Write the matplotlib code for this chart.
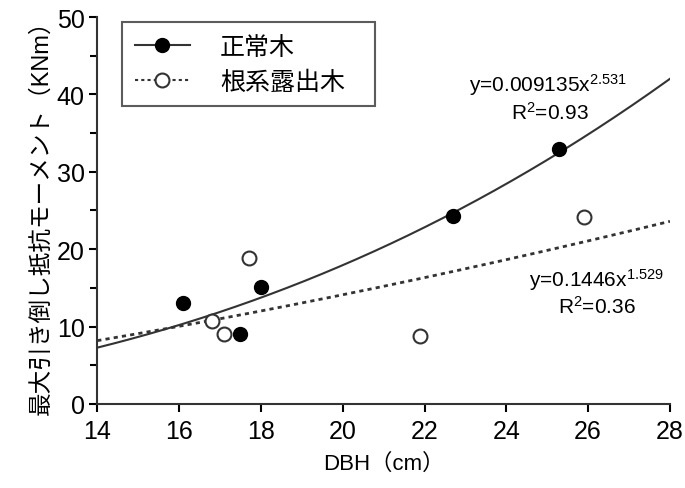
import numpy as np
import matplotlib.pyplot as plt
from matplotlib.lines import Line2D
from matplotlib.ticker import MultipleLocator

plt.rcParams['font.family'] = ['Liberation Sans', 'Noto Sans CJK JP']
plt.rcParams['mathtext.fontset'] = 'custom'
plt.rcParams['mathtext.rm'] = 'Liberation Sans'
plt.rcParams['mathtext.it'] = 'Liberation Sans'

# 正常木 (normal trees)
dbh_normal = [16.1, 17.5, 18.0, 22.7, 25.3]
moment_normal = [13.1, 9.0, 15.1, 24.3, 32.9]
# 根系露出木 (root-exposed trees)
dbh_exposed = [16.8, 17.1, 17.7, 21.9, 25.9]
moment_exposed = [10.7, 9.0, 18.9, 8.8, 24.2]

# power-law fits printed on the chart
fit_normal = (0.009135, 2.531)
fit_exposed = (0.1446, 1.529)

fig = plt.figure(figsize=(6.85, 4.89), dpi=100)
ax = fig.add_axes([0.142, 0.172, 0.836, 0.791])

xx = np.linspace(14, 28, 200)
ax.plot(xx, fit_normal[0] * xx ** fit_normal[1], color='#333333', lw=1.5, zorder=2)
ax.plot(xx, fit_exposed[0] * xx ** fit_exposed[1], color='#333333', lw=2.0,
        linestyle=(0, (1.5, 1.5)), zorder=2)

ax.plot(dbh_normal, moment_normal, 'o', ms=10, color='black', zorder=3)
ax.plot(dbh_exposed, moment_exposed, 'o', ms=10, mfc='white', mec='#333333',
        mew=1.5, zorder=3)

ax.set_xlim(14, 28)
ax.set_ylim(0, 50)
ax.xaxis.set_major_locator(MultipleLocator(2))
ax.yaxis.set_major_locator(MultipleLocator(10))
ax.yaxis.set_minor_locator(MultipleLocator(5))
ax.tick_params(axis='both', which='major', labelsize=18, length=6, width=1.5)
ax.tick_params(axis='x', which='major', pad=5)
ax.tick_params(axis='y', which='major', pad=3)
ax.tick_params(axis='y', which='minor', length=5, width=1.5)
for s in ['top', 'right']:
    ax.spines[s].set_visible(False)
for s in ['left', 'bottom']:
    ax.spines[s].set_linewidth(1.5)
    ax.spines[s].set_color('#333333')

ax.set_xlabel('DBH（cm）', fontsize=16, labelpad=7)
ax.set_ylabel('最大引き倒し抵抗モーメント（KNm）', fontsize=17, labelpad=3)

ax.text(0.787, 0.827, 'y=0.009135x$^{2.531}$', transform=ax.transAxes,
        fontsize=15, ha='center', va='center')
ax.text(0.79, 0.755, 'R$^{2}$=0.93', transform=ax.transAxes,
        fontsize=15, ha='center', va='center')
ax.text(0.871, 0.323, 'y=0.1446x$^{1.529}$', transform=ax.transAxes,
        fontsize=15, ha='center', va='center')
ax.text(0.873, 0.253, 'R$^{2}$=0.36', transform=ax.transAxes,
        fontsize=15, ha='center', va='center')

handles = [
    Line2D([], [], color='#333333', lw=1.5, marker='o', ms=10, mfc='black', mec='black'),
    Line2D([], [], color='#333333', lw=1.5, linestyle=(0, (1.5, 1.5)), marker='o', ms=10,
           mfc='white', mec='#333333', mew=1.5),
]
leg = ax.legend(handles, ['正常木', '根系露出木'], loc='upper left',
                bbox_to_anchor=(0.044, 0.767, 0.4415, 0.22), mode='expand',
                fontsize=18, frameon=True,
                fancybox=False, edgecolor='#333333', borderpad=0.5,
                handlelength=2.2, labelspacing=0.45, handletextpad=1.2,
                borderaxespad=0)
leg.get_frame().set_linewidth(1.5)

fig.savefig('out.png', dpi=100)
